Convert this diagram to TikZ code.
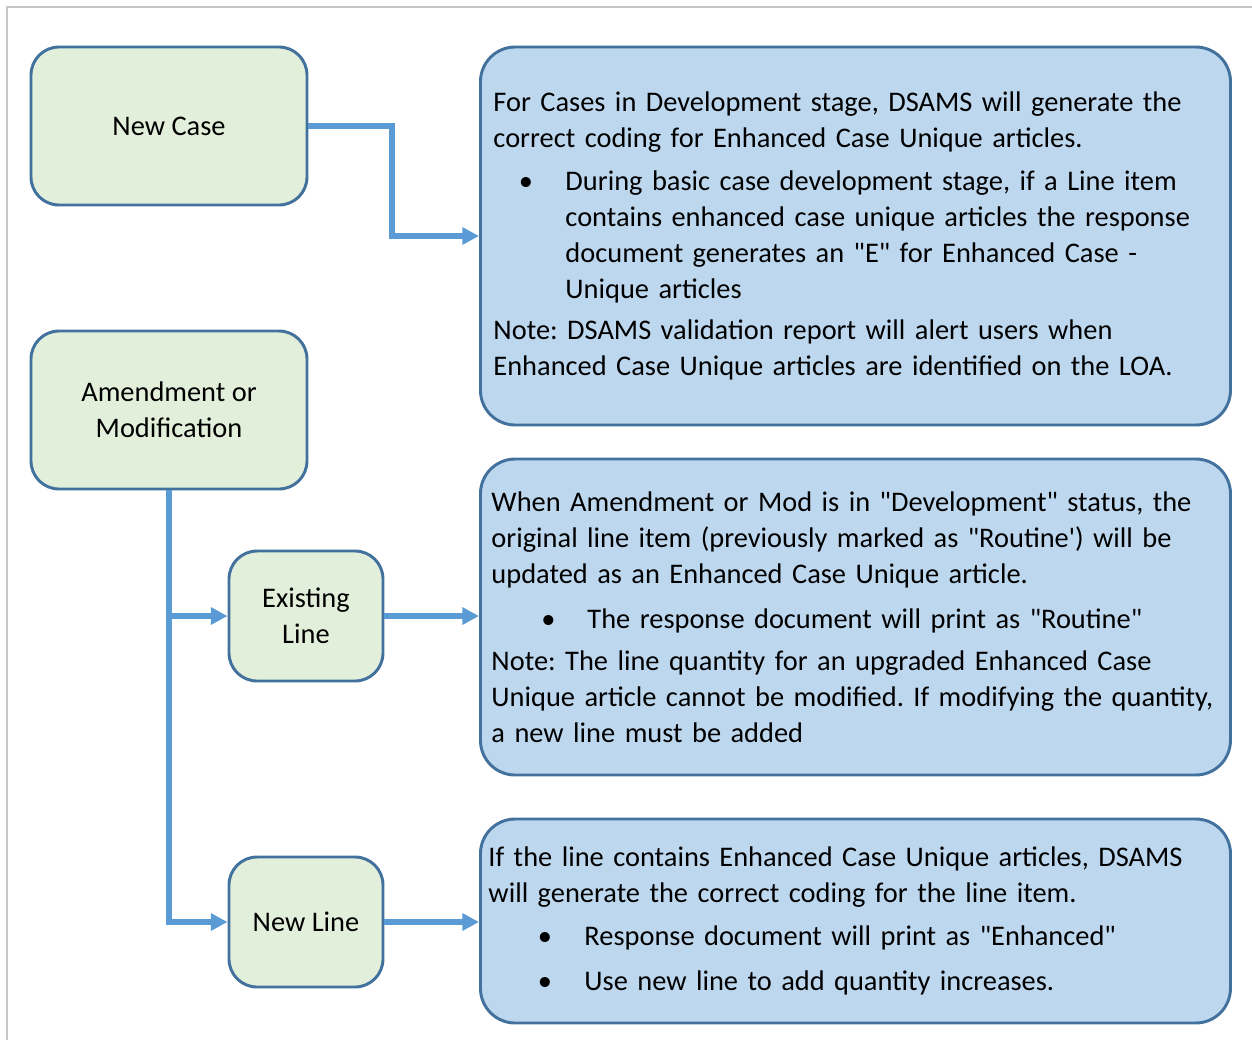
\documentclass[tikz,border=0pt]{standalone}
\usepackage{fontspec}
\setmainfont{Carlito}[Ligatures=TeXOff]
\usetikzlibrary{arrows.meta}
\frenchspacing

\definecolor{stepgreen}{HTML}{E2EFDA}
\definecolor{notebluefill}{HTML}{BDD7EE}
\definecolor{boxedge}{HTML}{41719C}
\definecolor{flowblue}{HTML}{5B9BD5}

\tikzset{
  stepbox/.style={draw=boxedge, line width=2.2pt, fill=stepgreen, rounded corners=21pt,
    align=center, font=\fontsize{21.3}{27}\selectfont},
  notebox/.style={draw=boxedge, line width=2.2pt, fill=notebluefill, rounded corners=26pt,
    align=left, anchor=west, font=\fontsize{21.3}{27}\selectfont},
  flow/.style={draw=flowblue, line width=4pt, -{Triangle[length=12.5pt,width=12.5pt]}}
}
\newcommand{\bul}[2]{\hspace*{#1}\makebox[#2][l]{\textbullet}}

\begin{document}
\begin{tikzpicture}[x=0.75pt, y=-0.75pt]
  \useasboundingbox (0,0) rectangle (1252,1040);
  \draw[gray!45, line width=1.5pt] (7,1040) -- (7,7) -- (1252,7);

  % left column
  \node[stepbox, minimum width=207pt, minimum height=118.5pt] (newcase) at (169,126) {New Case};
  \node[stepbox, minimum width=207pt, minimum height=118.5pt] (amend) at (169,410) {Amendment or\\Modification};
  \node[stepbox, minimum width=115.5pt, minimum height=97.5pt] (existing) at (306,616) {Existing\\Line};
  \node[stepbox, minimum width=115.5pt, minimum height=97.5pt] (newline) at (306,922) {New Line};

  % notes
  \node[notebox, inner xsep=9.75pt, text width=543pt, minimum height=283.5pt] (devnote) at (479,236) {%
    For Cases in Development stage, DSAMS will generate the\\
    correct coding for Enhanced Case Unique articles.\\[5pt]
    \bul{19pt}{35pt}During basic case development stage, if a Line item\\
    \hspace*{54pt}contains enhanced case unique articles the response\\
    \hspace*{54pt}document generates an "E" for Enhanced Case -\\
    \hspace*{54pt}Unique articles\\[4pt]
    Note: DSAMS validation report will alert users when\\
    Enhanced Case Unique articles are identified on the LOA.};

  \node[notebox, inner xsep=8.25pt, text width=546pt, minimum height=237pt] (modnote) at (479,617) {%
    When Amendment or Mod is in "Development" status, the\\
    original line item (previously marked as "Routine') will be\\
    updated as an Enhanced Case Unique article.\\[7pt]
    \bul{37.5pt}{34.5pt}The response document will print as "Routine"\\[4pt]
    Note: The line quantity for an upgraded Enhanced Case\\
    Unique article cannot be modified. If modifying the quantity,\\
    a new line must be added};

  \node[notebox, inner xsep=6pt, text width=550.5pt, minimum height=153pt] (linenote) at (479,921) {%
    If the line contains Enhanced Case Unique articles, DSAMS\\
    will generate the correct coding for the line item.\\[5pt]
    \bul{37pt}{35pt}Response document will print as "Enhanced"\\[7pt]
    \bul{37pt}{35pt}Use new line to add quantity increases.};

  % connectors
  \coordinate (bend) at (392,180);
  \draw[flow] (newcase.east) -| (bend) |- (devnote.west);
  \draw[flow] (amend.south) |- (newline.west);
  \draw[flow] (amend.south |- existing.west) -- (existing.west);
  \draw[flow] (existing.east) -- (modnote.west |- existing.east);
  \draw[flow] (newline.east) -- (linenote.west |- newline.east);
\end{tikzpicture}
\end{document}
